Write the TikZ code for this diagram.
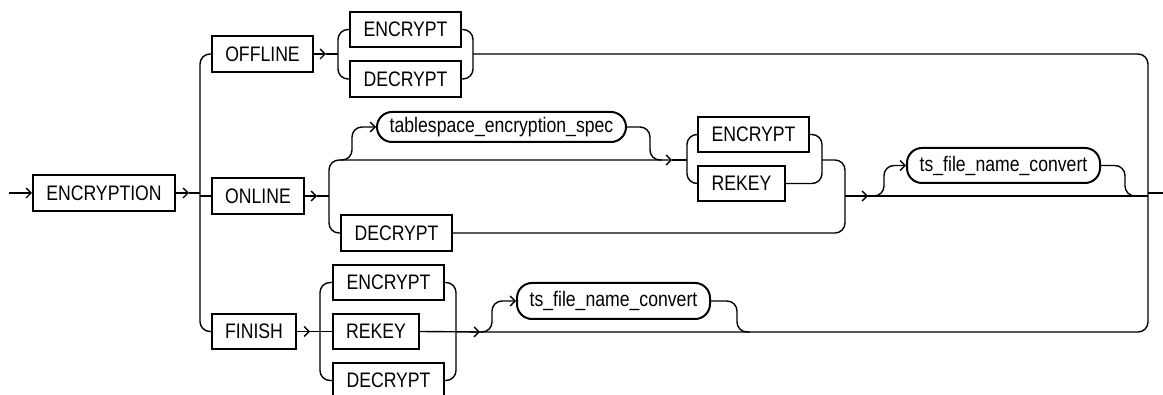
\documentclass[tikz,border=0pt]{standalone}
\usepackage{fontspec}
\setmainfont{Liberation Sans}[FakeStretch=0.84]
\usetikzlibrary{arrows.meta}
\begin{document}
\begin{tikzpicture}[x=1pt,y=-1pt,
  kw/.style={draw,line width=2pt,rectangle,inner sep=0pt,minimum height=36pt,font=\fontsize{21}{24}\selectfont},
  term/.style={kw,rounded corners=15pt},
  ln/.style={line width=1.4pt,rounded corners=10pt},
  arr/.style={ln,-{Straight Barb[length=5pt,width=10pt,line width=1.4pt]}}]
\useasboundingbox (0,0) rectangle (1163,395);
\clip (0,0) rectangle (1163,395);
% nodes
\node[kw,minimum width=142pt] (encryption) at (104,193) {ENCRYPTION};
\node[kw,minimum width=101pt] (offline) at (262.5,54) {OFFLINE};
\node[kw,minimum width=111pt,minimum height=35pt] (enc1) at (405.5,29.5) {ENCRYPT};
\node[kw,minimum width=111pt] (dec1) at (405.5,79) {DECRYPT};
\node[kw,minimum width=92pt] (online) at (258,196) {ONLINE};
\node[term,minimum width=249pt,minimum height=30pt] (tses) at (501.5,127) {tablespace\_encryption\_spec};
\node[kw,minimum width=111pt,minimum height=35pt] (enc2) at (753.5,134.5) {ENCRYPT};
\node[kw,minimum width=87pt,minimum height=35pt] (rekey2) at (741.5,183.5) {REKEY};
\node[kw,minimum width=111pt] (dec2) at (396.5,233) {DECRYPT};
\node[term,minimum width=193pt,minimum height=35pt] (tsfn1) at (1003.5,165.5) {ts\_file\_name\_convert};
\node[kw,minimum width=84pt,minimum height=35pt] (finish) at (254,331.5) {FINISH};
\node[kw,minimum width=111pt,minimum height=35pt] (enc3) at (388.5,282.5) {ENCRYPT};
\node[kw,minimum width=86pt,minimum height=35pt] (rekey3) at (376,331.5) {REKEY};
\node[kw,minimum width=111pt,minimum height=35pt] (dec3) at (388.5,380.5) {DECRYPT};
\node[term,minimum width=193pt,minimum height=36pt] (tsfn2) at (613.5,301) {ts\_file\_name\_convert};
% entry and main split
\draw[arr] (9,193) -- (encryption.west);
\draw[arr] (encryption.east) -- (189,193);
\draw[ln] (189,193) -- (200,193);
\draw[ln] (offline.west) -- (200,54) -- (200,331.5) -- (finish.west);
\draw[ln] (200,196) -- (online.west);
% OFFLINE branch
\draw[arr] (offline.east) -- (326,54);
\draw[ln] (326,54) -- (338,54);
\draw[ln] (enc1.west) -- (338,29.5) -- (338,79) -- (dec1.west);
\draw[ln] (enc1.east) -- (473,29.5) -- (473,79) -- (dec1.east);
\draw[ln] (480,332) -- (1148,332) -- (1148,54) -- (473,54);
\draw[ln] (1148,193) -- (1163,193);
% ONLINE branch
\draw[arr] (online.east) -- (317,196);
\draw[ln] (317,196) -- (329,196);
\draw[arr] (dec2.west) -- (329,233) -- (329,160) -- (672,160);
\draw[ln] (672,160) -- (687,160);
\draw[arr] (340,160) -- (352,160) -- (352,127) -- (tses.west);
\draw[ln] (tses.east) -- (650,127) -- (650,160) -- (662,160);
\draw[ln] (enc2.west) -- (687,134.5) -- (687,183.5) -- (rekey2.west);
\draw[ln] (enc2.east) -- (822,134.5) -- (822,183.5) -- (rekey2.east);
\draw[ln] (822,160) -- (845,160) -- (845,233) -- (dec2.east);
\draw[arr] (845,196) -- (868,196);
\draw[ln] (868,196) -- (1148,196);
\draw[arr] (860,196) -- (884,196) -- (884,165.5) -- (tsfn1.west);
\draw[ln] (tsfn1.east) -- (1125,165.5) -- (1125,196) -- (1137,196);
% FINISH branch
\draw[arr] (finish.east) -- (310,331.5);
\draw[ln] (310,331.5) -- (rekey3.west);
\draw[ln] (enc3.west) -- (320,282.5) -- (320,380.5) -- (dec3.west);
\draw[ln] (enc3.east) -- (456,282.5) -- (456,380.5) -- (dec3.east);
\draw[arr] (rekey3.east) -- (480,332);
\draw[arr] (470,332) -- (492,332) -- (492,301) -- (tsfn2.west);
\draw[ln] (tsfn2.east) -- (737,301) -- (737,332) -- (750,332);
\end{tikzpicture}
\end{document}
